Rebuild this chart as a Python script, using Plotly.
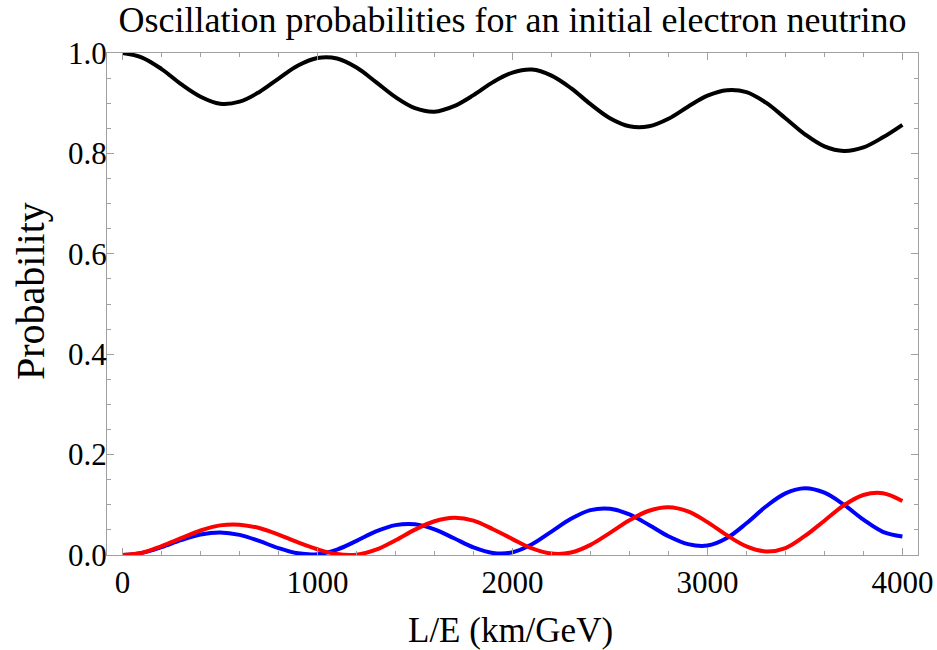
import plotly.graph_objects as go

# L/E values (km/GeV)
L_values = [0, 100, 200, 300, 400, 500, 600, 700, 800, 900,
            1000, 1100, 1200, 1300, 1400, 1500, 1600, 1700, 1800, 1900,
            2000, 2100, 2200, 2300, 2400, 2500, 2600, 2700, 2800, 2900,
            3000, 3100, 3200, 3300, 3400, 3500, 3600, 3700, 3800, 3900, 4000]

# survival probability (black)
p_ee = [1.000, 0.991, 0.968, 0.938, 0.913, 0.899, 0.903, 0.922, 0.949, 0.975,
        0.990, 0.989, 0.971, 0.942, 0.912, 0.890, 0.883, 0.894, 0.916, 0.942,
        0.961, 0.967, 0.955, 0.930, 0.898, 0.870, 0.854, 0.854, 0.869, 0.893,
        0.915, 0.926, 0.922, 0.901, 0.870, 0.838, 0.814, 0.805, 0.812, 0.832, 0.857]

# blue curve
p_blue = [0.0, 0.0043, 0.0157, 0.0296, 0.0408, 0.0450, 0.0401, 0.0280, 0.0136, 0.0033,
          0.0016, 0.0109, 0.0282, 0.0469, 0.0595, 0.0612, 0.0511, 0.0334, 0.0152, 0.0042,
          0.0055, 0.0214, 0.0467, 0.0721, 0.0895, 0.0922, 0.0808, 0.0598, 0.0373, 0.0216,
          0.0188, 0.0339, 0.0632, 0.0966, 0.1228, 0.1330, 0.1241, 0.1002, 0.0704, 0.0462, 0.0370]

# red curve
p_red = [0.0, 0.0046, 0.0178, 0.0334, 0.0488, 0.0590, 0.0605, 0.0538, 0.0408, 0.0251,
         0.0114, 0.0018, 0.0007, 0.0107, 0.0294, 0.0506, 0.0672, 0.0740, 0.0685, 0.0514,
         0.0317, 0.0130, 0.0028, 0.0049, 0.0202, 0.0441, 0.0692, 0.0881, 0.0950, 0.0868,
         0.0655, 0.0392, 0.0170, 0.0071, 0.0138, 0.0379, 0.0683, 0.0990, 0.1195, 0.1230, 0.1075]

x_ticks = [0, 1000, 2000, 3000, 4000]
x_tick_labels = ["0", "1000", "2000", "3000", "4000"]
y_ticks = [0.0, 0.2, 0.4, 0.6, 0.8, 1.0]
y_tick_labels = ["0.0", "0.2", "0.4", "0.6", "0.8", "1.0"]

SERIF = "Liberation Serif, Times New Roman, serif"

fig = go.Figure()
fig.add_trace(go.Scatter(x=L_values, y=p_blue, mode="lines",
                         line=dict(color="#0000ff", width=4, shape="spline", smoothing=1.0)))
fig.add_trace(go.Scatter(x=L_values, y=p_red, mode="lines",
                         line=dict(color="#ff0000", width=4, shape="spline", smoothing=1.0)))
fig.add_trace(go.Scatter(x=L_values, y=p_ee, mode="lines",
                         line=dict(color="#000000", width=4, shape="spline", smoothing=1.0)))

axis_common = dict(
    showgrid=False, zeroline=False, automargin=False,
    showline=True, linecolor="#a0a0a0", linewidth=1, mirror="ticks",
    ticks="inside", ticklen=7, tickwidth=1, tickcolor="#a0a0a0",
    tickfont=dict(family=SERIF, size=31, color="#000000"),
)

fig.update_xaxes(
    range=[-80, 4080],
    tickvals=x_ticks, ticktext=x_tick_labels,
    minor=dict(ticks="inside", ticklen=4, dtick=200, tick0=0, tickcolor="#a0a0a0", tickwidth=1),
    **axis_common,
)
fig.update_yaxes(
    range=[0, 1],
    tickvals=y_ticks, ticktext=y_tick_labels, ticklabelstandoff=-7,
    minor=dict(ticks="inside", ticklen=4, dtick=0.05, tick0=0, tickcolor="#a0a0a0", tickwidth=1),
    **axis_common,
)

fig.update_layout(
    width=937, height=650,
    margin=dict(l=107, r=19, t=53, b=95),
    paper_bgcolor="white", plot_bgcolor="white",
    showlegend=False,
    title=dict(text="Oscillation probabilities for an initial electron neutrino",
               font=dict(family=SERIF, size=36, color="#000000"),
               x=0.5, xref="paper", xanchor="center",
               y=1 - 19.5 / 650, yref="container", yanchor="middle"),
    annotations=[
        dict(text="L/E (km/GeV)", xref="paper", yref="paper",
             x=0.4975, y=(555 - 630) / 502.0, xanchor="center", yanchor="middle",
             showarrow=False, font=dict(family=SERIF, size=35, color="#000000")),
        dict(text="Probability", xref="paper", yref="paper", textangle=-90,
             x=(30 - 107) / 811.0, y=(555 - 291) / 502.0, xanchor="center", yanchor="middle",
             showarrow=False, font=dict(family=SERIF, size=40, color="#000000")),
    ],
)

# remove the default 8px page margin so the 937x650 figure fills the window exactly
fig.write_html("out.html",
               config={"displayModeBar": False},
               post_script="document.body.style.margin='0';document.body.style.overflow='hidden';")
